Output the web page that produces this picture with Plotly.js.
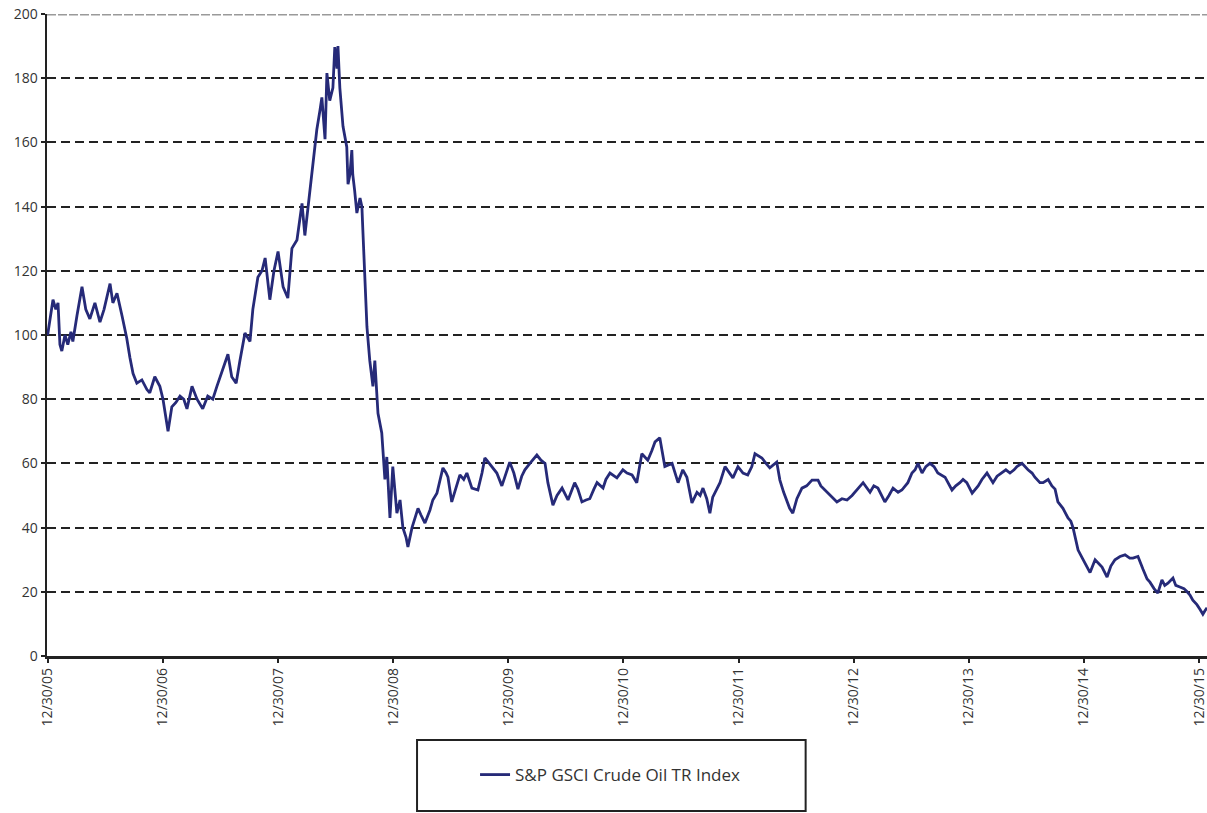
<!DOCTYPE html>
<html>
<head>
<meta charset="utf-8">
<script src="https://cdn.plot.ly/plotly-3.0.1.min.js"></script>
<style>
html,body{margin:0;padding:0;background:#fff;}
#chart{width:1207px;height:813px;}
</style>
</head>
<body>
<div id="chart"></div>
<script>
// Time expressed as decimal years, where 2006.000 corresponds to 12/30/05
const timeYears = [
2006.000,2006.020,2006.046,2006.072,2006.089,2006.106,2006.124,2006.150,2006.176,2006.202,
2006.220,2006.255,2006.298,2006.332,2006.367,2006.410,2006.454,2006.489,2006.524,2006.541,
2006.567,2006.602,2006.645,2006.688,2006.715,2006.741,2006.776,2006.819,2006.862,2006.888,
2006.931,2006.975,2007.001,2007.019,2007.045,2007.079,2007.114,2007.149,2007.184,2007.210,
2007.253,2007.297,2007.348,2007.392,2007.436,2007.471,2007.505,2007.540,2007.566,2007.600,
2007.636,2007.671,2007.714,2007.757,2007.783,2007.826,2007.861,2007.888,2007.931,2007.966,
2008.000,2008.044,2008.087,2008.121,2008.165,2008.191,2008.209,2008.235,2008.261,2008.295,
2008.321,2008.339,2008.365,2008.382,2008.408,2008.425,2008.451,2008.478,2008.495,2008.513,
2008.521,2008.539,2008.565,2008.599,2008.608,2008.625,2008.642,2008.651,2008.668,2008.687,
2008.713,2008.730,2008.739,2008.756,2008.773,2008.799,2008.825,2008.842,2008.868,2008.903,
2008.930,2008.947,2008.973,2008.999,2009.016,2009.034,2009.060,2009.086,2009.112,2009.129,
2009.164,2009.190,2009.216,2009.242,2009.277,2009.320,2009.346,2009.381,2009.408,2009.434,
2009.460,2009.477,2009.511,2009.546,2009.581,2009.615,2009.642,2009.685,2009.737,2009.772,
2009.798,2009.815,2009.858,2009.902,2009.946,2009.972,2010.015,2010.050,2010.084,2010.119,
2010.146,2010.189,2010.250,2010.284,2010.319,2010.345,2010.388,2010.424,2010.467,2010.519,
2010.545,2010.579,2010.605,2010.641,2010.676,2010.710,2010.745,2010.771,2010.823,2010.850,
2010.884,2010.919,2010.945,2010.997,2011.031,2011.075,2011.118,2011.162,2011.188,2011.214,
2011.249,2011.275,2011.318,2011.335,2011.361,2011.423,2011.449,2011.475,2011.518,2011.552,
2011.596,2011.640,2011.666,2011.692,2011.726,2011.752,2011.778,2011.813,2011.839,2011.883,
2011.918,2011.952,2011.995,2012.039,2012.082,2012.117,2012.143,2012.204,2012.239,2012.273,
2012.334,2012.360,2012.394,2012.420,2012.446,2012.473,2012.508,2012.551,2012.594,2012.638,
2012.691,2012.717,2012.751,2012.794,2012.855,2012.899,2012.942,2012.986,2013.030,2013.082,
2013.142,2013.177,2013.212,2013.246,2013.272,2013.308,2013.342,2013.386,2013.420,2013.472,
2013.508,2013.534,2013.560,2013.594,2013.629,2013.663,2013.698,2013.733,2013.794,2013.855,
2013.889,2013.924,2013.950,2013.984,2014.029,2014.081,2014.115,2014.158,2014.211,2014.246,
2014.289,2014.324,2014.358,2014.393,2014.419,2014.463,2014.515,2014.550,2014.576,2014.619,
2014.646,2014.689,2014.724,2014.750,2014.776,2014.819,2014.862,2014.888,2014.905,2014.950,
2014.993,2015.028,2015.054,2015.097,2015.123,2015.157,2015.201,2015.236,2015.271,2015.314,
2015.357,2015.400,2015.427,2015.471,2015.514,2015.549,2015.575,2015.609,2015.644,2015.678,
2015.704,2015.731,2015.774,2015.800,2015.835,2015.870,2015.896,2015.922,2015.947,2015.982,
2016.009,2016.035,2016.052,2016.070
];

const indexValues = [
100,104,111,108,110,97,95,100,97,101,
98,106,115,108,105,110,104,108,113,116,
110,113,106,99,93,88,85,86,83,82,
87,84,80,76,70,77.6,79,81,80,77,
84,80,77,81,80,84,88,91,94,87,
85,92,100.6,98,108,118,120,124,111,120,
126,115,111.5,127,129.6,136,141,131,140,150,
160,164,170,174,161,181.6,173,177,189.7,183,
190,177,165,158.6,147,150,157.6,150,145,138,
142.7,140,132.7,117,102.5,92,84,92,75.6,69.5,
55,62,43,59,50,44.5,48.6,40,37,34,
40,43,46,44,41.4,45.5,48.6,50.7,55,58.6,
57,55.7,48,52,56.4,55,57,52.3,51.7,57,
61.7,61,59,57,53,56,60.4,57,52,56,
58,60,62.6,61,60,54,47,50,52.3,48.6,
51,54,52,48,48.6,49,52,54,52.3,55,
57,56,55.5,58,57,56.4,54,63,62,61,
64,66.7,68,64,59,60,57,54,58,55.7,
47.7,51,50,52.3,49,44.5,49.5,52,54,59,
57,55.5,59,57,56.4,59,63,61.7,60,58.6,
60.4,54.8,51,48.6,46,44.5,49,52.3,53,54.8,
54.8,53,51.7,50,48,49,48.6,50,51.7,54,
51,53,52.3,50,48,50,52.3,51,51.7,54,
57,58,60,57,59,60,59,57,55.7,51.7,
53,54,55,54,50.7,53,55,57,54,56,
57,58,57,58,59,60,58,57,55.7,54,
54,55,53,52,48,46,43,42,40,33,
30,28,26,30,29,27.7,24.6,28,30,31,
31.5,30.5,30.5,31,27,24,23,21,19.6,23.7,
22,22.7,24.3,22,21.5,21,20,19,17.4,16,
14.5,13,14,15
];

const tickYears = [2006,2007,2008,2009,2010,2011,2012,2013,2014,2015,2016];
const tickLabels = ["12/30/05","12/30/06","12/30/07","12/30/08","12/30/09","12/30/10","12/30/11","12/30/12","12/30/13","12/30/14","12/30/15"];
const seriesName = "S&P GSCI Crude Oil TR Index";
const xRangeYears = [2005.994, 2016.070];
const yRange = [0, 200];

const BASE = Date.UTC(2005, 11, 30);
const DAY = 86400000;
function toDate(t) {
  const d = new Date(BASE + Math.round((t - 2006) * 365.25) * DAY);
  return d.toISOString().slice(0, 10);
}

const xDates = timeYears.map(toDate);
const tickDates = tickYears.map(toDate);

const trace = {
  x: xDates,
  y: indexValues,
  type: 'scatter',
  mode: 'lines',
  name: seriesName,
  line: {color: '#262a78', width: 2.8},
  showlegend: true
};

const font = "'Open Sans', 'Noto Sans', sans-serif";

const layout = {
  width: 1207,
  height: 813,
  margin: {l: 47, r: 0, t: 14, b: 157},
  paper_bgcolor: '#ffffff',
  plot_bgcolor: '#ffffff',
  showlegend: true,
  font: {family: font, color: '#333333', size: 14},
  xaxis: {
    type: 'date',
    range: [toDate(xRangeYears[0]), toDate(xRangeYears[1])],
    tickmode: 'array',
    tickvals: tickDates,
    ticktext: tickLabels,
    tickangle: -90,
    ticklabeloverflow: 'allow',
    ticks: 'outside',
    ticklen: 4,
    tickwidth: 2,
    tickcolor: '#222222',
    showgrid: false,
    showline: true,
    linecolor: '#222222',
    linewidth: 2.5,
    zeroline: false,
    tickfont: {family: font, size: 14, color: '#333333'},
    fixedrange: true
  },
  yaxis: {
    range: yRange,
    tickmode: 'linear',
    tick0: 0,
    dtick: 20,
    ticks: 'outside',
    ticklen: 4,
    tickwidth: 2,
    tickcolor: '#222222',
    showgrid: true,
    gridcolor: '#222222',
    gridwidth: 2,
    griddash: '9px,5px',
    showline: true,
    linecolor: '#222222',
    linewidth: 2.5,
    zeroline: false,
    tickfont: {family: font, size: 14, color: '#333333'},
    fixedrange: true
  },
  legend: {
    x: 0.369,
    y: -0.1854,
    xanchor: 'left',
    yanchor: 'middle',
    bgcolor: 'rgba(0,0,0,0)',
    borderwidth: 0,
    font: {family: font, size: 17, color: '#333333'}
  },
  shapes: [
    {type: 'line', xref: 'paper', yref: 'y', x0: 0, x1: 1, y0: 200, y1: 200,
     line: {color: '#ffffff', width: 3}, layer: 'above'},
    {type: 'line', xref: 'paper', yref: 'y', x0: 0, x1: 1, y0: 200, y1: 200,
     line: {color: '#9a9a9a', width: 3, dash: '9px,2px'}, layer: 'above'},
    {type: 'rect', xref: 'paper', yref: 'paper', x0: 0.319, x1: 0.654, y0: -0.2414, y1: -0.1308,
     line: {color: '#222222', width: 2}, fillcolor: 'rgba(0,0,0,0)'}
  ]
};

Plotly.newPlot('chart', [trace], layout, {displayModeBar: false, staticPlot: true});
</script>
</body>
</html>
